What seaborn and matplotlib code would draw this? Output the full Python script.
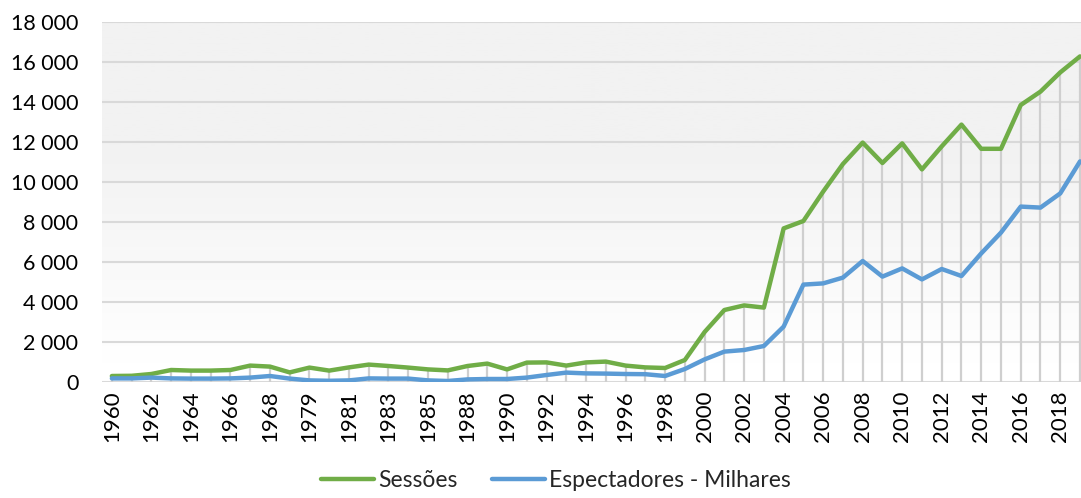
import numpy as np
import pandas as pd
import matplotlib
matplotlib.use("Agg")
import matplotlib.pyplot as plt
import seaborn as sns
from matplotlib.lines import Line2D

# ---------------------------
# Dados
# ---------------------------
anos = [1960, 1961, 1962, 1963, 1964, 1965, 1966, 1967, 1968, 1978,
        1979, 1980, 1981, 1982, 1983, 1984, 1985, 1987, 1988, 1989,
        1990, 1991, 1992, 1993, 1994, 1995, 1996, 1997, 1998, 1999,
        2000, 2001, 2002, 2003, 2004, 2005, 2006, 2007, 2008, 2009,
        2010, 2011, 2012, 2013, 2014, 2015, 2016, 2017, 2018, 2019]

sessoes = [300, 310, 400, 600, 570, 570, 600, 820, 770, 480,
           720, 570, 730, 870, 800, 720, 630, 580, 800, 920,
           630, 970, 980, 820, 980, 1020, 820, 730, 700, 1100,
           2500, 3600, 3830, 3720, 7680, 8050, 9520, 10900, 11970, 10950,
           11930, 10630, 11780, 12870, 11660, 11660, 13850, 14520, 15480, 16280]

espectadores = [180, 180, 220, 180, 170, 170, 180, 220, 300, 170,
                80, 60, 80, 180, 170, 170, 80, 50, 130, 150,
                150, 220, 350, 470, 430, 420, 400, 390, 300, 650,
                1130, 1520, 1600, 1800, 2770, 4870, 4930, 5220, 6050, 5270,
                5680, 5130, 5650, 5300, 6430, 7470, 8770, 8720, 9430, 11030]

rotulos_y = ["0", "2 000", "4 000", "6 000", "8 000", "10 000",
             "12 000", "14 000", "16 000", "18 000"]

df = pd.DataFrame({
    "pos": np.arange(len(anos)),
    "Sessões": sessoes,
    "Espectadores - Milhares": espectadores,
})
df_long = df.melt(id_vars="pos", var_name="serie", value_name="valor")

# ---------------------------
# Gráfico
# ---------------------------
sns.set_style("white")
plt.rcParams["font.family"] = ["Lato", "DejaVu Sans"]

fig = plt.figure(figsize=(10.81, 4.98), dpi=100)
ax = fig.add_axes([102 / 1081, 116 / 498, 979 / 1081, 360 / 498])

# fundo em degradê (branco em cima, cinza claro em baixo)
grad = np.clip((np.linspace(0, 1, 200) - 0.05) / 0.6, 0, 1)[:, None]
cores_fundo = matplotlib.colors.LinearSegmentedColormap.from_list("f", ["#ffffff", "#f2f2f2"])
ax.imshow(grad, cmap=cores_fundo, aspect="auto", extent=[0, 1, 1, 0],
          transform=ax.transAxes, zorder=0, vmin=0, vmax=1)

# linhas de chamada verticais
ax.vlines(df["pos"], 0, np.maximum(sessoes, espectadores), color="#cfcfcf", lw=1.6, zorder=1)

sns.lineplot(data=df_long, x="pos", y="valor", hue="serie",
             palette={"Sessões": "#70ad47", "Espectadores - Milhares": "#5b9bd5"},
             lw=3.2, ax=ax, legend=False, zorder=3)

ax.set_xlim(-0.5, 49.05)
ax.set_ylim(0, 18000)
ax.set_yticks(np.arange(0, 18001, 2000))
ax.set_yticklabels(rotulos_y)
ax.set_xticks(df["pos"][::2])
ax.set_xticklabels([str(a) for a in anos[::2]], rotation=90)
ax.set_xlabel("")
ax.set_ylabel("")
ax.grid(axis="y", color="#d9d9d9", lw=1.5, zorder=0.5)
for lado in ["top", "right", "left", "bottom"]:
    ax.spines[lado].set_visible(False)
ax.tick_params(axis="y", length=0, pad=17, labelsize=15.5, colors="#000000")
ax.tick_params(axis="x", length=0, pad=6, labelsize=16, colors="#000000")

# legenda
handles = [Line2D([], [], color="#70ad47", lw=3.2),
           Line2D([], [], color="#5b9bd5", lw=3.2)]
fig.legend(handles, ["Sessões", "Espectadores - Milhares"], loc="lower center",
           bbox_to_anchor=(0.514, -0.028), ncol=2, frameon=False, fontsize=16.5,
           handlelength=2.35, handletextpad=0.15, columnspacing=1.5)

plt.savefig("out.png", dpi=100)
